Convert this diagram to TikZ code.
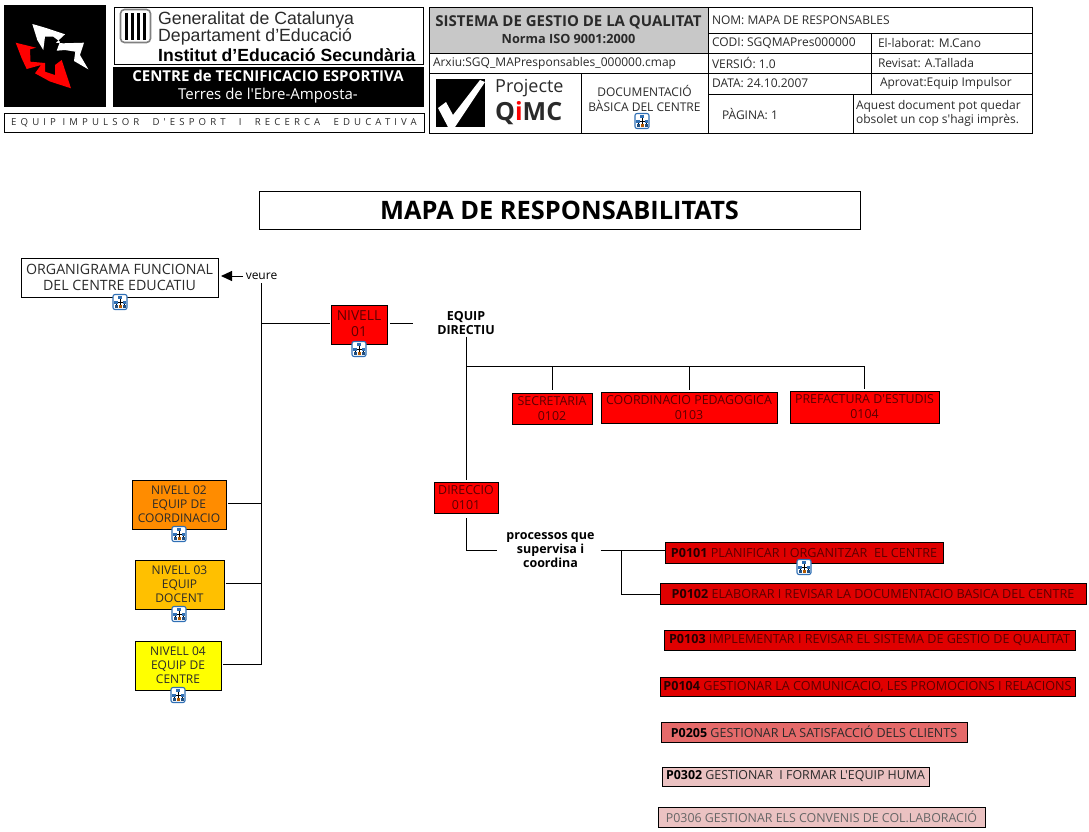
\documentclass[tikz,border=0pt]{standalone}
\usepackage{fontspec}
\setmainfont{Open Sans}[Ligatures=TeXOff]
\newfontfamily\arialf{Liberation Sans}
\usetikzlibrary{arrows.meta,calc}
\newcommand{\fsz}[2]{\fontsize{#1}{#2}\selectfont}
% absolute box helper: name, x0, y0, x1, y1, style, text
\newcommand{\rbox}[7]{%
  \pgfmathsetmacro{\cxx}{(#2+#4)/2}\pgfmathsetmacro{\cyy}{(#3+#5)/2}%
  \pgfmathsetmacro{\www}{#4-#2}\pgfmathsetmacro{\hhh}{#5-#3}%
  \node[boxbase,minimum width=\www pt,minimum height=\hhh pt,#6] (#1) at (\cxx,\cyy) {#7};}
\definecolor{mapred}{HTML}{FF0000}
\definecolor{procred}{HTML}{E00000}
\definecolor{procmid}{HTML}{E56A6A}
\definecolor{procpale}{HTML}{EBC2C2}
\definecolor{maroon}{HTML}{5C0000}
\definecolor{headgray}{HTML}{C8C8C8}
\definecolor{txtgray}{HTML}{2A2A2A}
\definecolor{iconblue}{HTML}{2F6FB5}
\definecolor{lvlb}{HTML}{FF8C00}
\definecolor{lvlc}{HTML}{FFC000}
\definecolor{lvld}{HTML}{FFFF00}
\definecolor{redtip}{HTML}{FF0000}
\tikzset{
  x=1pt,y=-1pt,
  boxbase/.style={draw=black,line width=1pt,inner sep=0pt,outer sep=0pt,align=center,text=black,font=\fsz{12}{14}},
  redbox/.style={fill=mapred,text=maroon},
  procbox/.style={fill=procred,text=maroon,font=\fsz{12.6}{14}},
  midbox/.style={fill=procmid,text=txtgray,font=\fsz{12.5}{14}},
  palebox/.style={fill=procpale,text=txtgray,font=\fsz{12.4}{14}},
  cell/.style={text=txtgray,font=\fsz{12}{14}},
  linklabel/.style={inner sep=0pt,outer sep=0pt,align=center,font=\fsz{12.5}{14}\bfseries},
  link/.style={line width=1pt,draw=black},
  cmapicon/.pic={
    \draw[draw=iconblue,fill=white,line width=1.1pt,rounded corners=2pt] (-7,-7.5) rectangle (7,7.5);
    \draw[line width=0.5pt,draw=black] (0,-3) -- (0,0) (-4,0) -- (4,0) (-4,0) -- (-4,3) (4,0) -- (4,3) (0,0) -- (0,3);
    \fill[iconblue] (-2,-6) rectangle (2,-3);
    \fill[iconblue] (-6,-1) rectangle (-2.5,2);
    \fill[iconblue!70!black] (-5.5,3) rectangle (-2.5,5.5);
    \fill[orange!70!black] (-1.5,3) rectangle (1.5,5.5);
    \fill[iconblue] (2.5,-1) rectangle (5.5,1.5);
    \fill[iconblue!70!black] (2.5,3) rectangle (5.5,5.5);
  }
}
\begin{document}
\begin{tikzpicture}
\useasboundingbox (0,0) rectangle (1089,831);
% ---- left header ----
\rbox{logo}{4}{5}{105}{106}{fill=black}{}
\fill[white] (32.3,24) .. controls (47,28) and (55,31) .. (65,34.3) -- (56,42.7) -- (63,43.3) -- (84,42.7) -- (80,55) -- (88.3,69.3) -- (78,63.3) -- (74,61) -- (75.3,51.7) -- (65,50) -- (56.7,50.7) -- (60,41.7) -- (53.3,36.7) -- (45,36.7) -- (43.3,50) -- (37.3,40) -- cycle;
\fill[redtip] (15.7,42.7) -- (36,47.7) -- (30,49.3) -- (30.5,61.7) -- (45,63) -- (45,71.7) -- (55,75) -- (55,65) -- (61.7,60) -- (71,88.3) -- (50,81.5) -- (35,73.3) -- (41,65) -- (26.7,69) -- (21.7,58.3) -- cycle;
\rbox{genbox}{114}{7}{423}{64}{}{}
\rbox{shield}{120.5}{9.5}{150.5}{42.5}{draw=gray,fill=white,line width=1.6pt,rounded corners=4pt}{}
\foreach \xx in {126.5,132.5,138.5,144.5}{\fill[black] (\xx-1.7,12.5) rectangle (\xx+1.7,39.5);}
\node[inner sep=0pt,anchor=west,text=txtgray,font=\arialf\fsz{17.7}{18}] (gen1) at (158,20) {Generalitat de Catalunya};
\node[inner sep=0pt,anchor=west,text=txtgray,font=\arialf\fsz{17.7}{18}] (gen2) at (158,37) {Departament d’Educació};
\node[inner sep=0pt,anchor=west,text=black,font=\arialf\bfseries\fsz{17.6}{18}] (gen3) at (158,55) {Institut d’Educació Secundària};
\rbox{centre}{113}{67}{423}{106}{fill=black,text=white,font=\fsz{15}{18}}{\textbf{CENTRE de TECNIFICACIO ESPORTIVA}\\{\fsz{15}{18}Terres de l'Ebre-Amposta-}}
\rbox{equip}{4}{113}{424}{132}{text=txtgray,font=\fsz{9.6}{12}\addfontfeature{LetterSpace=43}}{EQUIP IMPULSOR\ \ D'ESPORT\ \ I\ \ RECERCA\ \ EDUCATIVA}
% ---- right header table ----
\rbox{gray}{429}{7}{708}{53}{fill=headgray,text=txtgray,font=\fsz{15}{17}\bfseries}{SISTEMA DE GESTIO DE LA QUALITAT\\{\fsz{12.7}{14}Norma ISO 9001:2000}}
\rbox{arxiu}{429}{53}{708}{73}{cell}{\makebox[271pt][l]{Arxiu:SGQ\_MAPresponsables\_000000.cmap}}
\rbox{quim}{429}{73}{581}{133}{}{}
\rbox{docu}{581}{73}{708}{133}{cell}{\raisebox{9pt}{\shortstack{DOCUMENTACIÓ\\[1pt]BÀSICA DEL CENTRE}}}
\rbox{nom}{708}{7}{1032}{33}{cell}{\makebox[316pt][l]{NOM: MAPA DE RESPONSABLES}}
\rbox{codi}{708}{33}{871}{53}{cell}{\makebox[155pt][l]{CODI: SGQMAPres000000}}
\rbox{elab}{871}{33}{1032}{53}{cell}{\makebox[147pt][l]{El-laborat: M.Cano}}
\rbox{vers}{708}{53}{871}{73}{cell}{\makebox[155pt][l]{VERSIÓ: 1.0}}
\rbox{revi}{871}{53}{1032}{73}{cell}{\makebox[147pt][l]{Revisat: A.Tallada}}
\rbox{data}{708}{73}{871}{94}{cell}{\makebox[155pt][l]{DATA: 24.10.2007}}
\rbox{apro}{871}{73}{1032}{94}{cell}{\makebox[147pt][l]{\hspace{2pt}Aprovat:Equip Impulsor}}
\rbox{pagi}{708}{94}{853}{133}{cell}{\makebox[117pt][l]{PÀGINA: 1}}
\rbox{aque}{853}{94}{1032}{133}{cell}{\makebox[173pt][l]{\begin{tabular}{@{}l@{}}Aquest document pot quedar\\obsolet un cop s'hagi imprès.\end{tabular}}}
\fill[black] (436,79) rectangle (485,127);
\fill[white] (438,108) -- (446,102) -- (453,115) -- (480,80) -- (485,82) -- (455,127) -- (448,127) -- cycle;
\node[inner sep=0pt,anchor=west,text=txtgray,font=\fsz{18}{18}] (proj) at (495,88) {Projecte};
\node[inner sep=0pt,anchor=west,text=txtgray,font=\bfseries\fsz{25}{25}] (qimc) at (495,113) {Q{\color{redtip}i}MC};
\pic (icondoc) at (642,121) {cmapicon};
% ---- title ----
\rbox{title}{259}{191}{860}{229}{font=\fsz{25.4}{26}\bfseries}{MAPA DE RESPONSABILITATS}
% ---- left column ----
\rbox{orga}{21}{258}{218}{297}{font=\fsz{14.2}{16.5},text=txtgray}{ORGANIGRAMA FUNCIONAL\\DEL CENTRE EDUCATIU}
\pic (iconorg) at (120,302) {cmapicon};
\node[inner sep=0pt,outer sep=0pt,font=\fsz{12}{13},minimum height=14pt,minimum width=32pt] (veure) at (261.5,276) {veure};
\rbox{n01}{331}{305}{387}{344}{redbox,font=\fsz{13.8}{16}}{\raisebox{1.5pt}{NIVELL}\\\raisebox{1.5pt}{01}}
\pic (icon01) at (359,349) {cmapicon};
\rbox{n02}{132}{480}{226}{529}{fill=lvlb,text=txtgray}{NIVELL 02\\EQUIP DE\\COORDINACIO}
\pic (icon02) at (179,534) {cmapicon};
\rbox{n03}{135}{560}{224}{609}{fill=lvlc,text=txtgray}{NIVELL 03\\EQUIP\\DOCENT}
\pic (icon03) at (179,614) {cmapicon};
\rbox{n04}{135}{641}{221}{690}{fill=lvld,text=txtgray}{NIVELL 04\\EQUIP DE\\CENTRE}
\pic (icon04) at (178,695) {cmapicon};
% ---- centre ----
\node[linklabel] (ed) at (466,323) {EQUIP\\DIRECTIU};
\rbox{secr}{512}{393}{592}{424}{redbox,font=\fsz{12.4}{15}}{SECRETARIA\\0102}
\rbox{coor}{601}{392}{777}{423}{redbox,font=\fsz{12.4}{15}}{COORDINACIO PEDAGOGICA\\0103}
\rbox{pref}{790}{391}{939}{423}{redbox,font=\fsz{12.4}{15}}{PREFACTURA D'ESTUDIS\\0104}
\rbox{dire}{434}{482}{498}{513}{redbox,font=\fsz{12.4}{15}}{DIRECCIO\\0101}
\node[linklabel] (proc) at (550.5,550) {processos que\\supervisa i\\coordina};
% ---- process boxes ----
\rbox{p1}{665}{542}{943}{563}{procbox}{\textcolor{black!85!red}{\textbf{P0101}} PLANIFICAR I ORGANITZAR\ \ EL CENTRE}
\pic (iconp1) at (804,567) {cmapicon};
\rbox{p2}{660}{583}{1086}{604}{procbox}{\textcolor{black!85!red}{\textbf{P0102}} ELABORAR I REVISAR LA DOCUMENTACIO BASICA DEL CENTRE}
\rbox{p3}{664}{630}{1075}{650}{procbox}{\textcolor{black!85!red}{\textbf{P0103}} IMPLEMENTAR I REVISAR EL SISTEMA DE GESTIO DE QUALITAT}
\rbox{p4}{660}{677}{1075}{696}{procbox}{\textcolor{black!85!red}{\textbf{P0104}} GESTIONAR LA COMUNICACIO, LES PROMOCIONS I RELACIONS}
\rbox{p5}{661}{722}{967}{742}{midbox}{\textcolor{black}{\textbf{P0205}} GESTIONAR LA SATISFACCIÓ DELS CLIENTS}
\rbox{p6}{662}{767}{929}{786}{palebox}{\textcolor{black}{\textbf{P0302}} GESTIONAR\ \ I FORMAR L'EQUIP HUMA}
\rbox{p7}{658}{807}{985}{827}{palebox,text=black!60}{P0306 GESTIONAR ELS CONVENIS DE COL.LABORACIÓ}
% ---- connectors ----
\draw[link,-{Triangle[length=11pt,width=10pt]},shorten >=3pt,shorten <=2.5pt] (veure.west) -- (orga.east |- veure.west);
\draw[link] (veure.south) -- ([yshift=1.5pt]veure.south |- n04.east);
\draw[link,shorten >=1pt] ([yshift=1.5pt]n01.west -| veure.south) -- ([yshift=1.5pt]n01.west);
\draw[link,shorten <=2pt] ([yshift=1.5pt]n02.east) -- ([yshift=1.5pt]n02.east -| veure.south);
\draw[link,shorten <=1.5pt] ([yshift=1.5pt]n03.east) -- ([yshift=1.5pt]n03.east -| veure.south);
\draw[link,shorten <=2pt] ([yshift=1.5pt]n04.east) -- ([yshift=1.5pt]n04.east -| veure.south);
\draw[link,shorten <=3pt] ([yshift=1.5pt]n01.east) -- ++(26,0);
\coordinate (edj) at (ed.south |- 0,366);
\draw[link,shorten <=2pt,shorten >=2pt] (ed.south) -- (dire.north -| ed.south);
\draw[link] (edj) -- (edj -| pref.north);
\draw[link,shorten >=3pt] (edj -| secr.north) -- (secr.north);
\draw[link,shorten >=2pt] (edj -| coor.north) -- (coor.north);
\draw[link,shorten >=2pt] (edj -| pref.north) -- (pref.north);
\draw[link,shorten <=5pt] (dire.south -| ed.south) -- (ed.south |- proc.west) -- ([xshift=-9pt]proc.west);
\draw[link,shorten <=6pt] (proc.east) -- (p1.west |- proc.east);
\coordinate (pj) at (621,550);
\draw[link] (pj) |- ([yshift=-.5pt]p2.west);
\end{tikzpicture}
\end{document}
